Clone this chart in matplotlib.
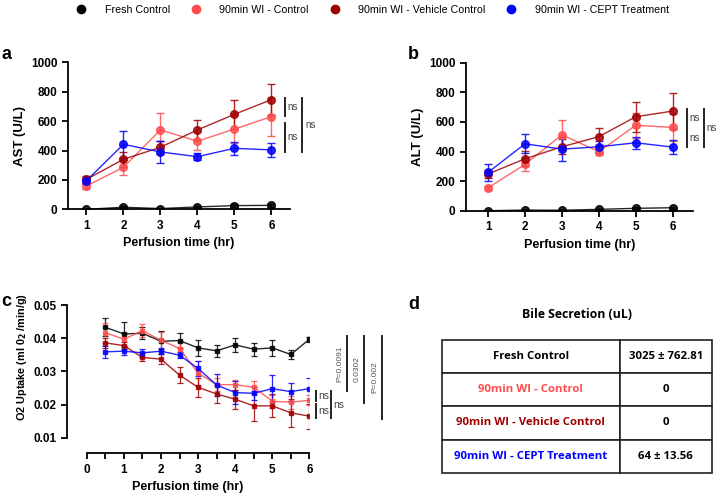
import numpy as np
import matplotlib.pyplot as plt
from matplotlib.lines import Line2D

plt.rcParams['font.family'] = ['Liberation Sans', 'DejaVu Sans']
plt.rcParams['mathtext.default'] = 'bf'

# ---------------- data ----------------
groups = ['Fresh Control', '90min WI - Control', '90min WI - Vehicle Control', '90min WI - CEPT Treatment']
colors = ['#000000', '#FF4D4D', '#A00000', '#0000FF']

hours = [1, 2, 3, 4, 5, 6]

ast_mean = [
    [0, 14, 5, 16, 25, 27],
    [159, 286, 540, 463, 546, 630],
    [204, 340, 422, 540, 646, 746],
    [195, 442, 390, 358, 415, 404],
]
ast_err = [
    [4, 6, 4, 6, 8, 8],
    [20, 50, 115, 60, 95, 130],
    [25, 50, 45, 68, 98, 105],
    [20, 90, 77, 25, 45, 45],
]

alt_mean = [
    [0, 4, 3, 9, 16, 20],
    [155, 313, 513, 399, 577, 563],
    [248, 351, 432, 500, 635, 673],
    [259, 452, 416, 432, 459, 430],
]
alt_err = [
    [3, 4, 4, 5, 6, 6],
    [15, 45, 100, 25, 85, 90],
    [30, 50, 50, 56, 100, 120],
    [55, 65, 80, 40, 40, 45],
]

o2_time = [0.5, 1, 1.5, 2, 2.5, 3, 3.5, 4, 4.5, 5, 5.5, 6]
o2_mean = [
    [0.0433, 0.0413, 0.0415, 0.0391, 0.0393, 0.0371, 0.0362, 0.0380, 0.0367, 0.0371, 0.0351, 0.0397],
    [0.0417, 0.0397, 0.0423, 0.0394, 0.0369, 0.0295, 0.0260, 0.0260, 0.0252, 0.0210, 0.0207, 0.0213],
    [0.0386, 0.0378, 0.0342, 0.0337, 0.0289, 0.0252, 0.0232, 0.0216, 0.0196, 0.0196, 0.0175, 0.0165],
    [0.0359, 0.0361, 0.0356, 0.0361, 0.0349, 0.0309, 0.0259, 0.0236, 0.0234, 0.0248, 0.0239, 0.0248],
]
o2_err = [
    [0.0027, 0.0035, 0.0018, 0.0030, 0.0023, 0.0025, 0.0018, 0.0020, 0.0020, 0.0025, 0.0015, 0.0008],
    [0.0030, 0.0020, 0.0020, 0.0025, 0.0020, 0.0035, 0.0020, 0.0015, 0.0020, 0.0020, 0.0020, 0.0015],
    [0.0015, 0.0010, 0.0012, 0.0015, 0.0025, 0.0028, 0.0028, 0.0028, 0.0045, 0.0035, 0.0042, 0.0038],
    [0.0018, 0.0013, 0.0012, 0.0010, 0.0010, 0.0022, 0.0032, 0.0035, 0.0020, 0.0040, 0.0027, 0.0033],
]

# significance brackets: (x, y_low, y_high, label)
ast_sig = [(6.36, 635, 755, 'ns'), (6.36, 392, 590, 'ns'), (6.84, 392, 755, 'ns')]
alt_sig = [(6.39, 563, 687, 'ns'), (6.39, 432, 552, 'ns'), (6.84, 432, 687, 'ns')]
o2_sig = [(6.17, 0.0211, 0.0241, 'ns'), (6.17, 0.0158, 0.0202, 'ns'), (6.58, 0.0158, 0.0241, 'ns')]
o2_pvals = [(7.01, 0.0241, 0.04075, 'P=0.0091'), (7.47, 0.0205, 0.04075, '0.0302'), (7.97, 0.0156, 0.04075, 'P=0.002')]

bile_rows = ['Fresh Control', '90min WI - Control', '90min WI - Vehicle Control', '90min WI - CEPT Treatment']
bile_vals = ['3025 ± 762.81', '0', '0', '64 ± 13.56']
bile_colors = ['#000000', '#FF4D4D', '#A00000', '#0000FF']

# ---------------- figure ----------------
fig = plt.figure(figsize=(7.18, 4.94), dpi=100)


def style_axes(ax):
    for s in ['top', 'right']:
        ax.spines[s].set_visible(False)
    for s in ['left', 'bottom']:
        ax.spines[s].set_linewidth(1.3)
    ax.tick_params(width=1.3, length=4, labelsize=8.5)
    for lab in ax.get_xticklabels() + ax.get_yticklabels():
        lab.set_fontweight('bold')


def bracket(ax, x, y0, y1, text, color='#444444', fs=7, rot=0, lw=1.4, side='right'):
    ax.plot([x, x], [y0, y1], color='#222222', lw=lw, clip_on=False)
    if side == 'right':
        ax.text(x + 0.07, (y0 + y1) / 2, text, fontsize=fs, color=color,
                va='center', ha='left', rotation=rot)
    else:
        ax.text(x - 0.1, (y0 + y1) / 2, text, fontsize=fs, color=color,
                va='center', ha='right', rotation=rot)


def liver_panel(ax, means, errs, ylabel, xlim, sig):
    for i in range(4):
        ax.errorbar(hours, means[i], yerr=errs[i], color=colors[i], marker='o', ms=5.5,
                    lw=1.0, elinewidth=1.0, capsize=3, capthick=1.0, alpha=0.85, zorder=3)
    ax.set_xlim(*xlim)
    ax.set_ylim(0, 1000)
    ax.set_xticks(hours)
    ax.set_yticks([0, 200, 400, 600, 800, 1000])
    ax.set_ylabel(ylabel, fontsize=9.5, fontweight='bold')
    ax.set_xlabel('Perfusion time (hr)', fontsize=9, fontweight='bold')
    style_axes(ax)
    for x, y0, y1, t in sig:
        bracket(ax, x, y0, y1, t)


ax_a = fig.add_axes([0.0947, 0.5763, 0.309, 0.2976])
liver_panel(ax_a, ast_mean, ast_err, 'AST (U/L)', (0.5, 6.5), ast_sig)

ax_b = fig.add_axes([0.649, 0.5735, 0.316, 0.2995])
liver_panel(ax_b, alt_mean, alt_err, 'ALT (U/L)', (0.4, 6.55), alt_sig)

# panel c
ax_c = fig.add_axes([0.0929, 0.0824, 0.338, 0.300])
for i in range(4):
    ax_c.errorbar(o2_time, o2_mean[i], yerr=o2_err[i], color=colors[i], marker='s', ms=3,
                  lw=1.0, elinewidth=0.9, capsize=2, capthick=0.9, alpha=0.85, zorder=3)
ax_c.set_xlim(-0.54, 6)
ax_c.set_ylim(0.0053, 0.05)
ax_c.spines['left'].set_bounds(0.01, 0.05)
ax_c.spines['bottom'].set_bounds(0, 6)
ax_c.set_xticks(range(0, 7))
ax_c.set_xticks(np.arange(0.5, 6, 1), minor=True)
ax_c.set_yticks([0.01, 0.02, 0.03, 0.04, 0.05])
ax_c.set_yticklabels(['0.01', '0.02', '0.03', '0.04', '0.05'])
ax_c.tick_params(which='minor', width=1.3, length=4)
ax_c.set_ylabel('O2 Uptake (ml 0$_{2}$ /min/g)', fontsize=7.8, fontweight='bold')
ax_c.yaxis.set_label_coords(-0.155, 0.65)
ax_c.set_xlabel('Perfusion time (hr)', fontsize=9, fontweight='bold')
style_axes(ax_c)
for x, y0, y1, t in o2_sig:
    bracket(ax_c, x, y0, y1, t, fs=7.5)
for x, y0, y1, t in o2_pvals:
    bracket(ax_c, x, y0, y1, t, fs=6, rot=90, side='left', color='#555555')

# panel d: table
fig.text(0.803, 0.3638, 'Bile Secretion (uL)', fontsize=8.8, fontweight='bold',
         family='Open Sans', ha='center', va='center')
ax_d = fig.add_axes([0.615, 0.0431, 0.376, 0.2686])
ax_d.axis('off')
cells = [[r, v] for r, v in zip(bile_rows, bile_vals)]
tbl = ax_d.table(cellText=cells, colWidths=[0.66, 0.34], cellLoc='center',
                 bbox=[0, 0, 1, 1])
tbl.auto_set_font_size(False)
for (r, c), cell in tbl.get_celld().items():
    cell.set_edgecolor('#222222')
    cell.set_linewidth(1.2)
    txt = cell.get_text()
    txt.set_fontsize(8.2)
    txt.set_fontweight('bold')
    txt.set_fontfamily('Open Sans')
    if c == 0:
        txt.set_color(bile_colors[r])

# panel letters
for x, y, t in [(0.002, 0.889, 'a'), (0.568, 0.889, 'b'), (0.002, 0.39, 'c'), (0.568, 0.383, 'd')]:
    fig.text(x, y, t, fontsize=13, fontweight='bold', va='center', ha='left')

# legend
handles = [Line2D([], [], ls='none', marker='o', color=c, ms=6) for c in colors]
fig.legend(handles, groups, loc='upper center', bbox_to_anchor=(0.515, 1.01), ncol=4,
           frameon=False, fontsize=7.7, handletextpad=1.2, columnspacing=1.4)

fig.savefig('out.png', dpi=100)
